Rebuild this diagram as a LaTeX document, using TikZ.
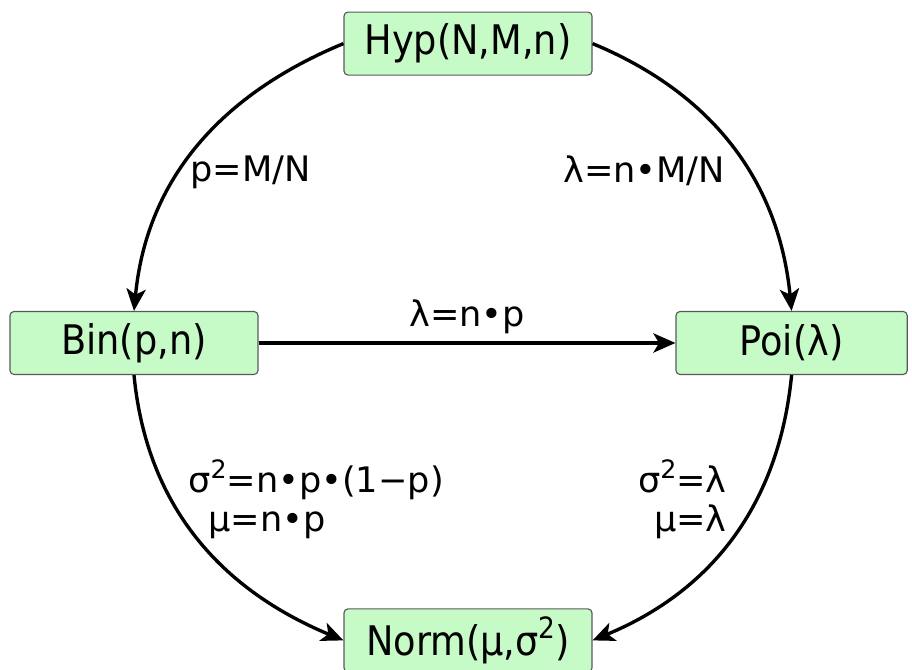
\documentclass[tikz,border=0pt]{standalone}
\usepackage{fontspec}
\setmainfont{DejaVu Sans Condensed}
\newfontfamily\lblfont{DejaVu Sans}
\usepackage{tikz}
\usetikzlibrary{arrows.meta, positioning}
\definecolor{distgreen}{RGB}{198,250,198}
\newcommand{\sqd}{\raisebox{0.42em}{\scalebox{0.72}{2}}}

\begin{document}
\begin{tikzpicture}[>={Stealth[length=0.55cm, width=0.48cm, inset=0.14cm]},
    dist/.style={draw=black!65, line width=0.8pt, rounded corners=0.1cm, fill=distgreen,
        minimum width=6.2cm, minimum height=1.575cm, font=\fontsize{29}{34}\selectfont},
    lbl/.style={inner sep=0pt, font=\lblfont\fontsize{25}{30}\selectfont},
    conn/.style={->, line width=2.4pt}]
    \useasboundingbox (0,0) rectangle (22.8,16.75);
    \node[dist] (hyp) at (11.7,15.66) {Hyp(N,M,n)};
    \node[dist] (bin) at (3.35,8.175) {Bin(p,n)};
    \node[dist, minimum width=5.78cm] (poi) at (19.79,8.175) {Poi(λ)};
    \node[dist] (norm) at (11.7,0.74) {Norm(μ,σ\sqd)};
    % labels
    \node[lbl, anchor=base west] (lhb) at (4.75,12.2) {p=M/N};
    \node[lbl, anchor=base west] (lhp) at (14.075,12.175) {λ=n•M/N};
    \node[lbl, anchor=base west] (lbns) at (4.7,4.425) {σ\sqd=n•p•(1−p)};
    \node[lbl, anchor=base west] (lbnm) at (5.2,3.45) {μ=n•p};
    \node[lbl, anchor=base east] (lpns) at (18.175,4.425) {σ\sqd=λ};
    \node[lbl, anchor=base east] (lpnm) at (18.175,3.45) {μ=λ};
    % connectors
    \draw[conn] (hyp.west) to[out=202.5, in=84.5] (bin.north);
    \draw[conn] (hyp.east) to[out=-22.5, in=95.6] (poi.north);
    \draw[conn] (bin.east) -- node[lbl, above=0.18cm] (lbp) {λ=n•p} (poi.west);
    \draw[conn] (bin.south) to[out=-84.5, in=157.4] (norm.west);
    \draw[conn] (poi.south) to[out=-95.6, in=22.6] (norm.east);
\end{tikzpicture}
\end{document}
